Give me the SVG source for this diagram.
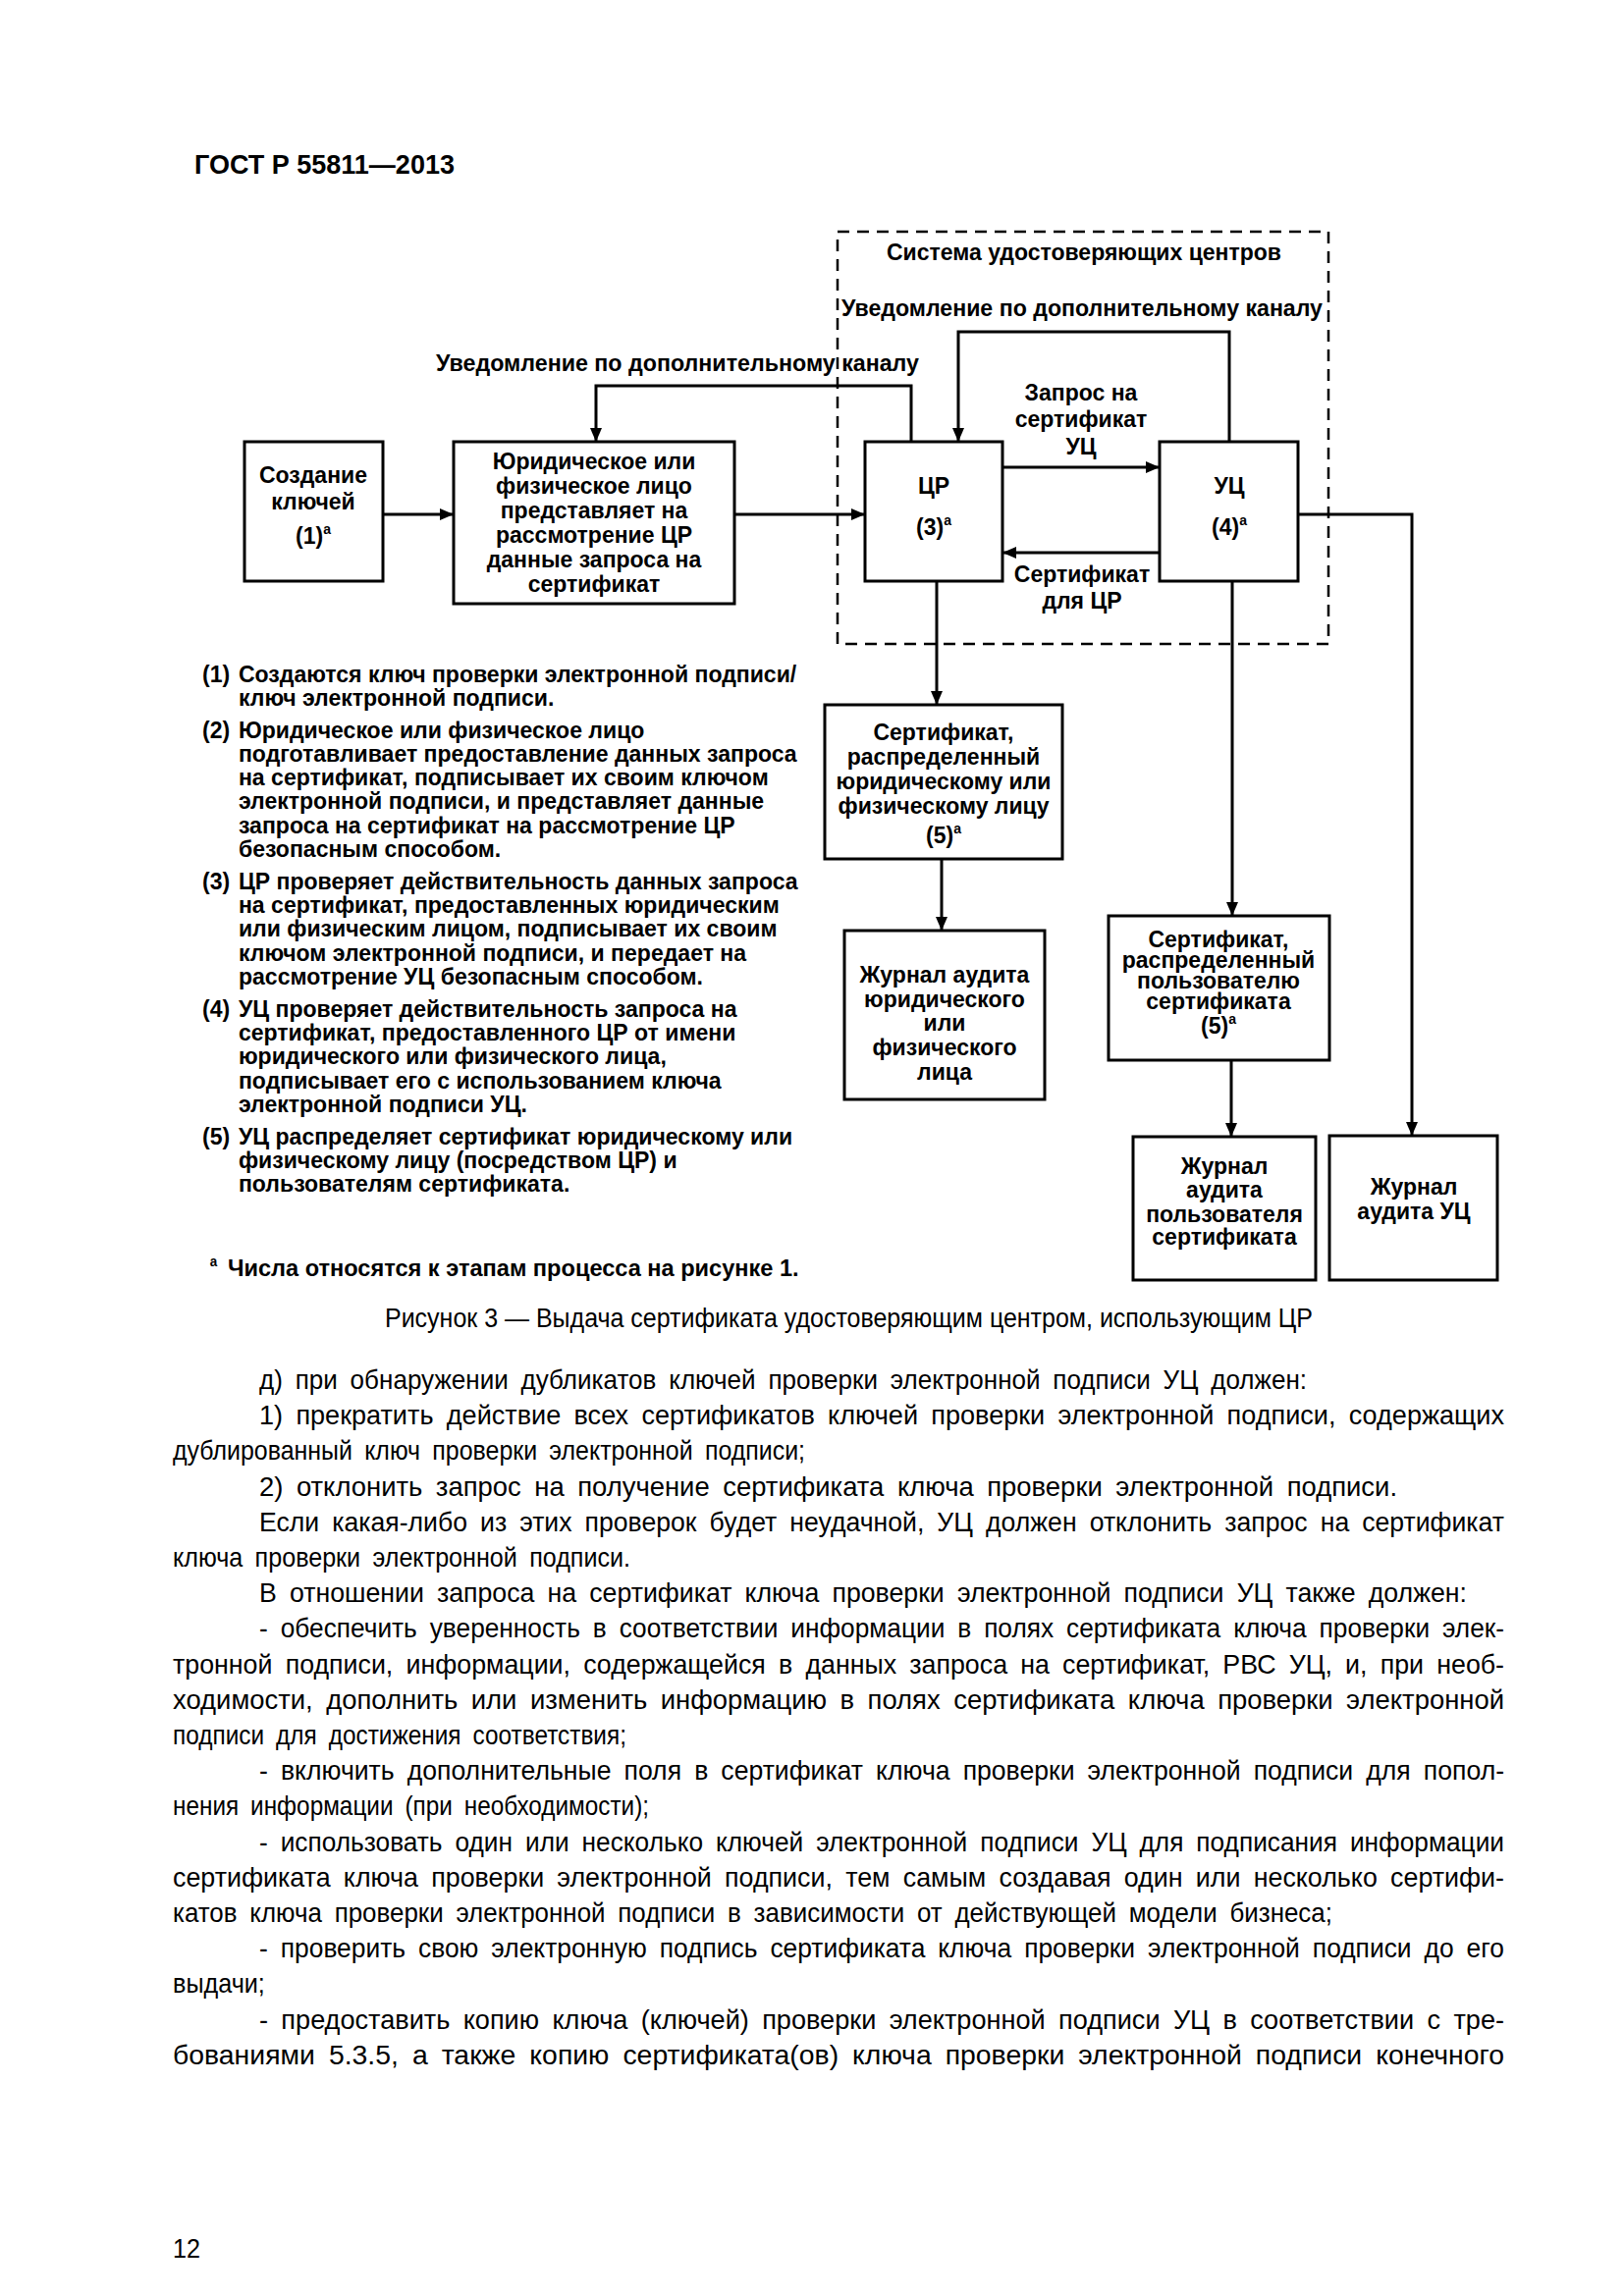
<svg xmlns="http://www.w3.org/2000/svg" width="1654" height="2339" viewBox="0 0 1654 2339">
<defs>
<marker id="ah" viewBox="0 0 14 12" refX="14" refY="6" markerWidth="14" markerHeight="12" markerUnits="userSpaceOnUse" orient="auto">
<path d="M0,0 L14,6 L0,12 Z" fill="#000"/>
</marker>
<style>
.b{font-family:"Liberation Sans",Arial,sans-serif;font-weight:bold;font-size:23px;fill:#000}
.bc{font-family:"Liberation Sans",Arial,sans-serif;font-weight:bold;font-size:23px;fill:#000;text-anchor:middle}
.n{font-family:"Liberation Sans",Arial,sans-serif;font-weight:bold;font-size:24px;fill:#000}
.t{font-family:"Liberation Sans",Arial,sans-serif;font-size:28px;fill:#000;word-spacing:6px}
.c{font-family:"Liberation Sans",Arial,sans-serif;font-size:28px;fill:#000}
.box{fill:#fff;stroke:#000;stroke-width:3}
.ln{fill:none;stroke:#000;stroke-width:3}
.sup{font-size:14px}
</style>
</defs>
<rect width="1654" height="2339" fill="#fff"/>
<text x="198" y="177" style="font-family:'Liberation Sans',Arial,sans-serif;font-weight:bold;font-size:27px">ГОСТ Р 55811—2013</text>

<g id="system">
<rect x="853" y="236" width="500" height="420" fill="none" stroke="#000" stroke-width="2.5" stroke-dasharray="12,8"/>
<text class="bc" x="1104" y="265">Система удостоверяющих центров</text>
</g>

<g id="connectors">
<path class="ln" d="M390,524 H462" marker-end="url(#ah)"/>
<path class="ln" d="M748,524 H881" marker-end="url(#ah)"/>
<path class="ln" d="M928,450 V393 H607 V450" marker-end="url(#ah)"/>
<path class="ln" d="M1252,450 V338 H976 V450" marker-end="url(#ah)"/>
<path class="ln" d="M1021,476 H1181" marker-end="url(#ah)"/>
<path class="ln" d="M1181,563 H1021" marker-end="url(#ah)"/>
<path class="ln" d="M954,592 V718" marker-end="url(#ah)"/>
<path class="ln" d="M959,875 V948" marker-end="url(#ah)"/>
<path class="ln" d="M1255,592 V933" marker-end="url(#ah)"/>
<path class="ln" d="M1254,1080 V1158" marker-end="url(#ah)"/>
<path class="ln" d="M1322,524 H1438 V1157" marker-end="url(#ah)"/>
<text class="b" x="444" y="378" textLength="492" lengthAdjust="spacingAndGlyphs">Уведомление по дополнительному каналу</text>
<text class="b" x="857" y="322" textLength="490" lengthAdjust="spacingAndGlyphs">Уведомление по дополнительному каналу</text>
<text class="bc" x="1101" y="408">Запрос на</text>
<text class="bc" x="1101" y="435">сертификат</text>
<text class="bc" x="1101" y="463">УЦ</text>
<text class="bc" x="1102" y="593">Сертификат</text>
<text class="bc" x="1102" y="620">для ЦР</text>
</g>

<g id="keys">
<rect class="box" x="249" y="450" width="141" height="142"/>
<text class="bc" x="319" y="492">Создание</text>
<text class="bc" x="319" y="519">ключей</text>
<text class="bc" x="319" y="554">(1)<tspan class="sup" dy="-10">a</tspan></text>
</g>

<g id="subject">
<rect class="box" x="462" y="450" width="286" height="165"/>
<text class="bc" x="605" y="478">Юридическое или</text>
<text class="bc" x="605" y="503">физическое лицо</text>
<text class="bc" x="605" y="528">представляет на</text>
<text class="bc" x="605" y="553">рассмотрение ЦР</text>
<text class="bc" x="605" y="578">данные запроса на</text>
<text class="bc" x="605" y="603">сертификат</text>
</g>

<g id="cr">
<rect class="box" x="881" y="450" width="140" height="142"/>
<text class="bc" x="951" y="503">ЦР</text>
<text class="bc" x="951" y="545">(3)<tspan class="sup" dy="-10">a</tspan></text>
</g>

<g id="uc">
<rect class="box" x="1181" y="450" width="141" height="142"/>
<text class="bc" x="1252" y="503">УЦ</text>
<text class="bc" x="1252" y="545">(4)<tspan class="sup" dy="-10">a</tspan></text>
</g>

<g id="cert1">
<rect class="box" x="840" y="718" width="242" height="157"/>
<text class="bc" x="961" y="754">Сертификат,</text>
<text class="bc" x="961" y="779">распределенный</text>
<text class="bc" x="961" y="804">юридическому или</text>
<text class="bc" x="961" y="829">физическому лицу</text>
<text class="bc" x="961" y="859">(5)<tspan class="sup" dy="-10">a</tspan></text>
</g>

<g id="log1">
<rect class="box" x="860" y="948" width="204" height="172"/>
<text class="bc" x="962" y="1001">Журнал аудита</text>
<text class="bc" x="962" y="1026">юридического</text>
<text class="bc" x="962" y="1050">или</text>
<text class="bc" x="962" y="1075">физического</text>
<text class="bc" x="962" y="1100">лица</text>
</g>

<g id="cert2">
<rect class="box" x="1129" y="933" width="225" height="147"/>
<text class="bc" x="1241" y="965">Сертификат,</text>
<text class="bc" x="1241" y="986">распределенный</text>
<text class="bc" x="1241" y="1007">пользователю</text>
<text class="bc" x="1241" y="1028">сертификата</text>
<text class="bc" x="1241" y="1053">(5)<tspan class="sup" dy="-10">a</tspan></text>
</g>

<g id="log2">
<rect class="box" x="1154" y="1158" width="186" height="146"/>
<text class="bc" x="1247" y="1196">Журнал</text>
<text class="bc" x="1247" y="1220">аудита</text>
<text class="bc" x="1247" y="1245">пользователя</text>
<text class="bc" x="1247" y="1268">сертификата</text>
</g>

<g id="log3">
<rect class="box" x="1354" y="1157" width="171" height="147"/>
<text class="bc" x="1440" y="1217">Журнал</text>
<text class="bc" x="1440" y="1242">аудита УЦ</text>
</g>

<g id="notes" transform="translate(206,0) scale(0.96,1) translate(-206,0)">
<text class="n" x="206" y="695">(1)</text><text class="n" x="244.5" y="695">Создаются ключ проверки электронной подписи/</text>
<text class="n" x="244.5" y="719">ключ электронной подписи.</text>
<text class="n" x="206" y="752">(2)</text><text class="n" x="244.5" y="752">Юридическое или физическое лицо</text>
<text class="n" x="244.5" y="776">подготавливает предоставление данных запроса</text>
<text class="n" x="244.5" y="800">на сертификат, подписывает их своим ключом</text>
<text class="n" x="244.5" y="824">электронной подписи, и представляет данные</text>
<text class="n" x="244.5" y="849">запроса на сертификат на рассмотрение ЦР</text>
<text class="n" x="244.5" y="873">безопасным способом.</text>
<text class="n" x="206" y="906">(3)</text><text class="n" x="244.5" y="906">ЦР проверяет действительность данных запроса</text>
<text class="n" x="244.5" y="930">на сертификат, предоставленных юридическим</text>
<text class="n" x="244.5" y="954">или физическим лицом, подписывает их своим</text>
<text class="n" x="244.5" y="979">ключом электронной подписи, и передает на</text>
<text class="n" x="244.5" y="1003">рассмотрение УЦ безопасным способом.</text>
<text class="n" x="206" y="1036">(4)</text><text class="n" x="244.5" y="1036">УЦ проверяет действительность запроса на</text>
<text class="n" x="244.5" y="1060">сертификат, предоставленного ЦР от имени</text>
<text class="n" x="244.5" y="1084">юридического или физического лица,</text>
<text class="n" x="244.5" y="1109">подписывает его с использованием ключа</text>
<text class="n" x="244.5" y="1133">электронной подписи УЦ.</text>
<text class="n" x="206" y="1166">(5)</text><text class="n" x="244.5" y="1166">УЦ распределяет сертификат юридическому или</text>
<text class="n" x="244.5" y="1190">физическому лицу (посредством ЦР) и</text>
<text class="n" x="244.5" y="1214">пользователям сертификата.</text>
<text class="n sup" x="214" y="1290">a</text>
<text class="n" x="233" y="1300" textLength="606" lengthAdjust="spacingAndGlyphs">Числа относятся к этапам процесса на рисунке 1.</text>
</g>

<text class="c" x="392" y="1352" textLength="945" lengthAdjust="spacingAndGlyphs">Рисунок 3 — Выдача сертификата удостоверяющим центром, использующим ЦР</text>

<g id="body" transform="scale(0.9,1)">
<text class="t" x="293.33" y="1415" textLength="1185.6" lengthAdjust="spacingAndGlyphs">д) при обнаружении дубликатов ключей проверки электронной подписи УЦ должен:</text>
<text class="t" x="293.33" y="1451" textLength="1408.9" lengthAdjust="spacingAndGlyphs">1) прекратить действие всех сертификатов ключей проверки электронной подписи, содержащих</text>
<text class="t" x="195.56" y="1487" textLength="715.6" lengthAdjust="spacingAndGlyphs">дублированный ключ проверки электронной подписи;</text>
<text class="t" x="293.33" y="1524" textLength="1287.8" lengthAdjust="spacingAndGlyphs">2) отклонить запрос на получение сертификата ключа проверки электронной подписи.</text>
<text class="t" x="293.33" y="1560" textLength="1408.9" lengthAdjust="spacingAndGlyphs">Если какая-либо из этих проверок будет неудачной, УЦ должен отклонить запрос на сертификат</text>
<text class="t" x="195.56" y="1596" textLength="517.8" lengthAdjust="spacingAndGlyphs">ключа проверки электронной подписи.</text>
<text class="t" x="293.33" y="1632" textLength="1366.7" lengthAdjust="spacingAndGlyphs">В отношении запроса на сертификат ключа проверки электронной подписи УЦ также должен:</text>
<text class="t" x="293.33" y="1668" textLength="1408.9" lengthAdjust="spacingAndGlyphs">- обеспечить уверенность в соответствии информации в полях сертификата ключа проверки элек-</text>
<text class="t" x="195.56" y="1705" textLength="1506.7" lengthAdjust="spacingAndGlyphs">тронной подписи, информации, содержащейся в данных запроса на сертификат, РВС УЦ, и, при необ-</text>
<text class="t" x="195.56" y="1741" textLength="1506.7" lengthAdjust="spacingAndGlyphs">ходимости, дополнить или изменить информацию в полях сертификата ключа проверки электронной</text>
<text class="t" x="195.56" y="1777" textLength="513.3" lengthAdjust="spacingAndGlyphs">подписи для достижения соответствия;</text>
<text class="t" x="293.33" y="1813" textLength="1408.9" lengthAdjust="spacingAndGlyphs">- включить дополнительные поля в сертификат ключа проверки электронной подписи для попол-</text>
<text class="t" x="195.56" y="1849" textLength="538.9" lengthAdjust="spacingAndGlyphs">нения информации (при необходимости);</text>
<text class="t" x="293.33" y="1886" textLength="1408.9" lengthAdjust="spacingAndGlyphs">- использовать один или несколько ключей электронной подписи УЦ для подписания информации</text>
<text class="t" x="195.56" y="1922" textLength="1506.7" lengthAdjust="spacingAndGlyphs">сертификата ключа проверки электронной подписи, тем самым создавая один или несколько сертифи-</text>
<text class="t" x="195.56" y="1958" textLength="1312.2" lengthAdjust="spacingAndGlyphs">катов ключа проверки электронной подписи в зависимости от действующей модели бизнеса;</text>
<text class="t" x="293.33" y="1994" textLength="1408.9" lengthAdjust="spacingAndGlyphs">- проверить свою электронную подпись сертификата ключа проверки электронной подписи до его</text>
<text class="t" x="195.56" y="2030">выдачи;</text>
<text class="t" x="293.33" y="2067" textLength="1408.9" lengthAdjust="spacingAndGlyphs">- предоставить копию ключа (ключей) проверки электронной подписи УЦ в соответствии с тре-</text>
<text class="t" x="195.56" y="2103" textLength="1506.7" lengthAdjust="spacingAndGlyphs">бованиями 5.3.5, а также копию сертификата(ов) ключа проверки электронной подписи конечного</text>
<text class="t" x="195.56" y="2300">12</text>
</g>
</svg>
